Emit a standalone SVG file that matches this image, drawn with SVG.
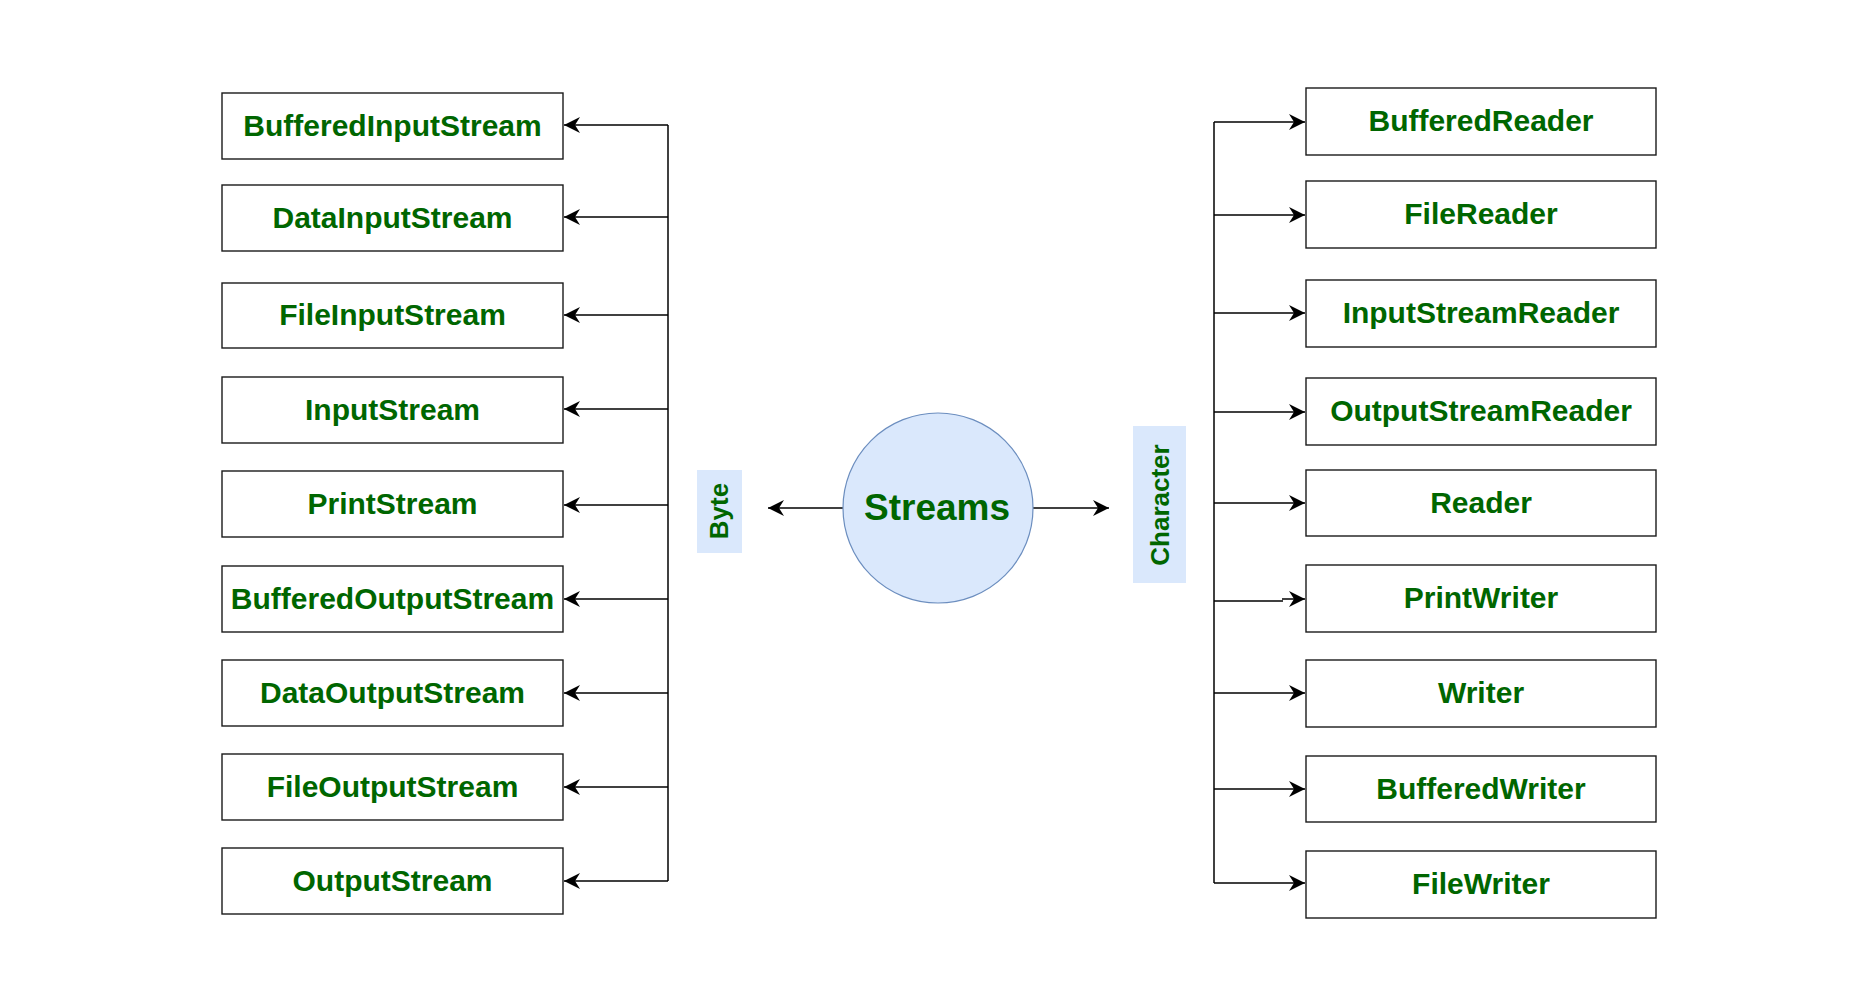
<svg xmlns="http://www.w3.org/2000/svg" width="1873" height="1007" viewBox="0 0 1873 1007">
<defs>
<style>
.box{fill:#ffffff;stroke:#1a1a1a;stroke-width:1.4}
.t{font-family:"Liberation Sans",Arial,sans-serif;font-weight:bold;font-size:30px;fill:#006600;text-anchor:middle}
.lbl{font-family:"Liberation Sans",Arial,sans-serif;font-weight:bold;font-size:26px;fill:#006600;text-anchor:middle}
.c{fill:none;stroke:#000;stroke-width:1.5}
.tag{fill:#dae8fc}
</style>
<marker id="ah" viewBox="-17 -9 18 18" refX="0" refY="0" markerWidth="18" markerHeight="18" markerUnits="userSpaceOnUse" orient="auto">
<path d="M0,0 L-16,-8 L-11,0 L-16,8 Z" fill="#000"/>
</marker>
</defs>
<rect width="1873" height="1007" fill="#ffffff"/>

<g id="connectors">
<path class="c" d="M843,508 H768" marker-end="url(#ah)"/>
<path class="c" d="M1033,508 H1109" marker-end="url(#ah)"/>
<path class="c" d="M668,125 V881"/>
<path class="c" d="M668,125 H564" marker-end="url(#ah)"/>
<path class="c" d="M668,217 H564" marker-end="url(#ah)"/>
<path class="c" d="M668,315 H564" marker-end="url(#ah)"/>
<path class="c" d="M668,409 H564" marker-end="url(#ah)"/>
<path class="c" d="M668,505 H564" marker-end="url(#ah)"/>
<path class="c" d="M668,599 H564" marker-end="url(#ah)"/>
<path class="c" d="M668,693 H564" marker-end="url(#ah)"/>
<path class="c" d="M668,787 H564" marker-end="url(#ah)"/>
<path class="c" d="M668,881 H564" marker-end="url(#ah)"/>
<path class="c" d="M1214,122 V883"/>
<path class="c" d="M1214,122 H1305" marker-end="url(#ah)"/>
<path class="c" d="M1214,215 H1305" marker-end="url(#ah)"/>
<path class="c" d="M1214,313 H1305" marker-end="url(#ah)"/>
<path class="c" d="M1214,412 H1305" marker-end="url(#ah)"/>
<path class="c" d="M1214,503 H1305" marker-end="url(#ah)"/>
<path class="c" d="M1214,601 H1283"/>
<path class="c" d="M1282,599 H1305" marker-end="url(#ah)"/>
<path class="c" d="M1214,693 H1305" marker-end="url(#ah)"/>
<path class="c" d="M1214,789 H1305" marker-end="url(#ah)"/>
<path class="c" d="M1214,883 H1305" marker-end="url(#ah)"/>
</g>

<g id="streams">
<circle cx="938" cy="508" r="95" fill="#dae8fc" stroke="#6c8ebf" stroke-width="1.2"/>
<text x="937" y="520" class="t" style="font-size:37px">Streams</text>
</g>
<g id="byte">
<rect class="tag" x="697" y="470" width="45" height="83"/>
<text class="lbl" transform="translate(728,511) rotate(-90)">Byte</text>
</g>
<g id="character">
<rect class="tag" x="1133" y="426" width="53" height="157"/>
<text class="lbl" transform="translate(1169,505) rotate(-90)">Character</text>
</g>

<g id="BufferedInputStream"><rect class="box" x="222" y="93" width="341" height="66"/><text class="t" x="392.5" y="135.5">BufferedInputStream</text></g>
<g id="DataInputStream"><rect class="box" x="222" y="185" width="341" height="66"/><text class="t" x="392.5" y="227.5">DataInputStream</text></g>
<g id="FileInputStream"><rect class="box" x="222" y="283" width="341" height="65"/><text class="t" x="392.5" y="325">FileInputStream</text></g>
<g id="InputStream"><rect class="box" x="222" y="377" width="341" height="66"/><text class="t" x="392.5" y="419.5">InputStream</text></g>
<g id="PrintStream"><rect class="box" x="222" y="471" width="341" height="66"/><text class="t" x="392.5" y="513.5">PrintStream</text></g>
<g id="BufferedOutputStream"><rect class="box" x="222" y="566" width="341" height="66"/><text class="t" x="392.5" y="608.5">BufferedOutputStream</text></g>
<g id="DataOutputStream"><rect class="box" x="222" y="660" width="341" height="66"/><text class="t" x="392.5" y="702.5">DataOutputStream</text></g>
<g id="FileOutputStream"><rect class="box" x="222" y="754" width="341" height="66"/><text class="t" x="392.5" y="796.5">FileOutputStream</text></g>
<g id="OutputStream"><rect class="box" x="222" y="848" width="341" height="66"/><text class="t" x="392.5" y="890.5">OutputStream</text></g>

<g id="BufferedReader"><rect class="box" x="1306" y="88" width="350" height="67"/><text class="t" x="1481" y="131">BufferedReader</text></g>
<g id="FileReader"><rect class="box" x="1306" y="181" width="350" height="67"/><text class="t" x="1481" y="224">FileReader</text></g>
<g id="InputStreamReader"><rect class="box" x="1306" y="280" width="350" height="67"/><text class="t" x="1481" y="323">InputStreamReader</text></g>
<g id="OutputStreamReader"><rect class="box" x="1306" y="378" width="350" height="67"/><text class="t" x="1481" y="421">OutputStreamReader</text></g>
<g id="Reader"><rect class="box" x="1306" y="470" width="350" height="66"/><text class="t" x="1481" y="512.5">Reader</text></g>
<g id="PrintWriter"><rect class="box" x="1306" y="565" width="350" height="67"/><text class="t" x="1481" y="608">PrintWriter</text></g>
<g id="Writer"><rect class="box" x="1306" y="660" width="350" height="67"/><text class="t" x="1481" y="703">Writer</text></g>
<g id="BufferedWriter"><rect class="box" x="1306" y="756" width="350" height="66"/><text class="t" x="1481" y="798.5">BufferedWriter</text></g>
<g id="FileWriter"><rect class="box" x="1306" y="851" width="350" height="67"/><text class="t" x="1481" y="894">FileWriter</text></g>
</svg>
